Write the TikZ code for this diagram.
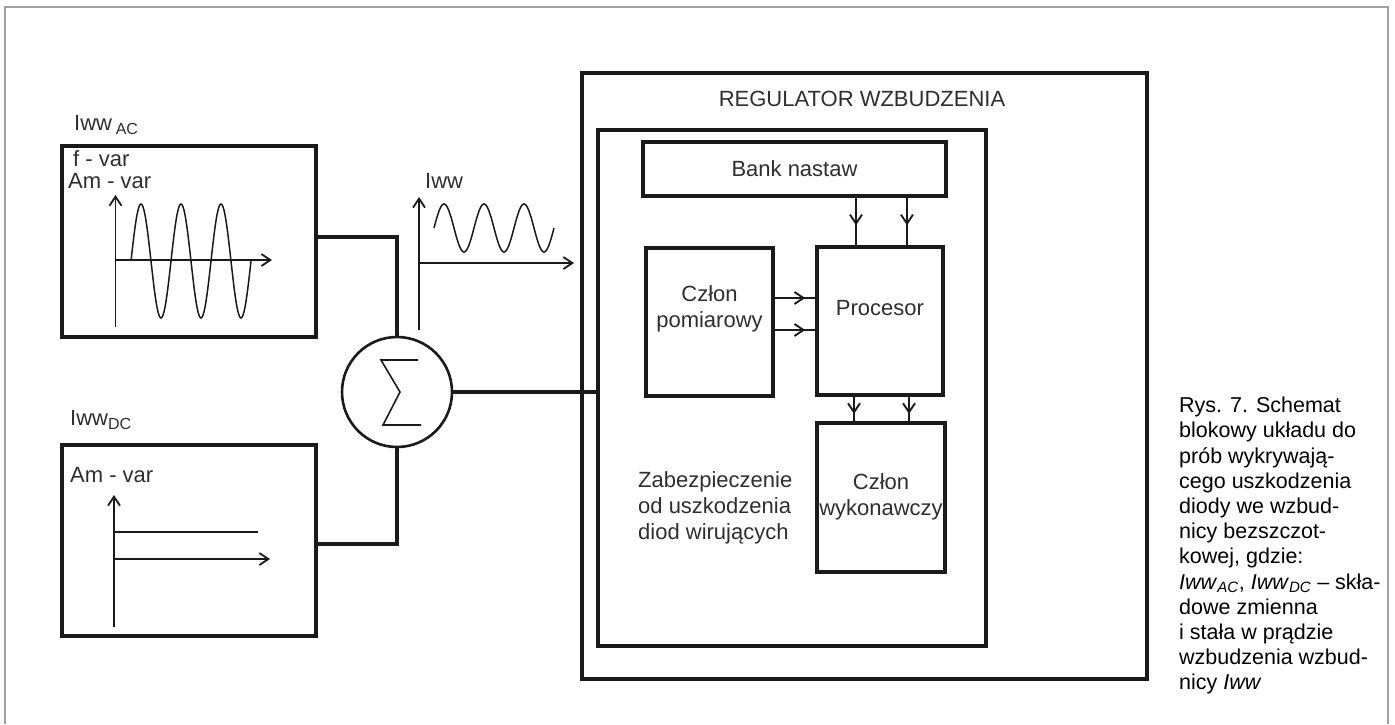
\documentclass[tikz,border=0pt]{standalone}
\usepackage{fontspec}
\setmainfont{Liberation Sans}
\usetikzlibrary{arrows.meta,positioning,calc,decorations.markings}
\definecolor{RegInk}{HTML}{1A1A1A}
\definecolor{RegText}{HTML}{2E2E2E}
\definecolor{RegFrame}{HTML}{A0A0A0}
\newcommand\subtag[1]{\raisebox{-4pt}{\fontsize{16}{16}\selectfont #1}}
\tikzset{
  regbox/.style={draw=RegInk,line width=3.2pt,inner sep=0pt,font=\fontsize{22}{26}\selectfont,text=RegText},
  reglabel/.style={font=\fontsize{22}{26}\selectfont,text=RegText,inner sep=0pt,align=center},
  wire/.style={draw=RegInk,line width=3.2pt},
  axisarrow/.style={-{Straight Barb[length=9pt,width=12pt]},draw=RegInk,line width=1.8pt},
  waveline/.style={draw=RegInk,line width=1.5pt},
  signalarrow/.style={draw=RegInk,line width=1.9pt,postaction={decorate},
    decoration={markings,mark=at position #1 with {\arrow{Straight Barb[length=9pt,width=12pt]}}}},
  signalarrow/.default=0.6
}

\begin{document}
\begin{tikzpicture}[x=1pt,y=-1pt]
\useasboundingbox (0,0) rectangle (1395,724);
\draw[RegFrame,line width=1.2pt] (5,724) -- (5,7) -- (1388,7) -- (1388,724);

% sources
\node[regbox,minimum width=254pt,minimum height=191pt] (acsrc) at (189,241.5) {};
\node[regbox,minimum width=254pt,minimum height=191pt] (dcsrc) at (189,540.5) {};
\node[reglabel,anchor=base west] (aclabel) at (74,130) {Iww\,\subtag{AC}};
\node[reglabel,anchor=base west] (dclabel) at (70,425) {Iww\subtag{DC}};
\node[reglabel,anchor=base west] (acfreq) at (73,166) {f - var};
\node[reglabel,anchor=base west] (acamp) at (68,188) {Am - var};
\node[reglabel,anchor=base west] (dcamp) at (70,482) {Am - var};

% AC plot
\draw[axisarrow] (115.5,327) -- (115.5,195);
\draw[axisarrow] (115.5,260) -- (272,260);
\draw[waveline] plot[domain=131:251,samples=121,smooth] (\x,{261-57*sin(9*(\x-131))});

% DC plot
\draw[axisarrow] (114,627) -- (114,495);
\draw[waveline] (114,532) -- (258,532);
\draw[axisarrow] (114,559) -- (270,559);

% summing junction
\node[circle,draw=RegInk,line width=2.6pt,minimum size=110pt,inner sep=0pt] (sum) at (397,392) {};
\draw[RegInk,line width=1.6pt] ([shift={(21,-32)}]sum.center) -- ([shift={(-16,-32)}]sum.center)
  -- ([shift={(3,0)}]sum.center) -- ([shift={(-14,33)}]sum.center) -- ([shift={(24,33)}]sum.center);

% output signal
\node[reglabel,anchor=base west] (outlabel) at (425,188) {Iww};
\draw[axisarrow] (419,330) -- (419,197);
\draw[axisarrow] (419,263) -- (574,263);
\draw[waveline] plot[domain=434:554,samples=121,smooth] (\x,{228-24*sin(9*(\x-434))});

% regulator
\node[regbox,minimum width=565pt,minimum height=606pt] (reg) at (864.5,376) {};
\node[reglabel,anchor=base] (regtitle) at (862,106) {REGULATOR WZBUDZENIA};
\node[regbox,minimum width=388pt,minimum height=516pt] (inner) at (792,388) {};
\node[regbox,minimum width=303pt,minimum height=54pt] (bank) at (794.5,169) {Bank nastaw};
\node[regbox,minimum width=127pt,minimum height=148pt] (meas) at (709.5,322) {};
\node[regbox,minimum width=126pt,minimum height=148pt] (proc) at (880,321) {};
\node[regbox,minimum width=128pt,minimum height=149pt] (wyk) at (881,497.5) {};
\node[reglabel,below=39pt of meas.north] (measlbl) {Człon\\pomiarowy};
\node[reglabel,below=55pt of proc.north] (proclbl) {Procesor};
\node[reglabel,below=52pt of wyk.north] (wyklbl) {Człon\\wykonawczy};
\node[reglabel,anchor=north west,align=left] (protlbl) at (638,471) {Zabezpieczenie\\od uszkodzenia\\diod wirujących};

\draw[wire] (acsrc.east |- 0,237) -| (sum.north);
\draw[wire] (dcsrc.east |- 0,544) -| (sum.south);
\draw[wire] (sum.east) -- (inner.west |- sum.east);

\draw[signalarrow=0.58] (bank.south -| 856,0) -- (proc.north -| 856,0);
\draw[signalarrow=0.58] (bank.south -| 907,0) -- (proc.north -| 907,0);
\draw[signalarrow=0.75] (meas.east |- 0,298) -- (proc.west |- 0,298);
\draw[signalarrow=0.75] (meas.east |- 0,330) -- (proc.west |- 0,330);
\draw[signalarrow=0.7] (proc.south -| 854,0) -- (wyk.north -| 854,0);
\draw[signalarrow=0.7] (proc.south -| 909,0) -- (wyk.north -| 909,0);

% caption
\node[anchor=north west,inner sep=0pt,align=left,font=\fontsize{21.5}{25.2}\selectfont,text=black] (caption) at (1179,397)
  {Rys. 7. Schemat\\blokowy układu do\\prób wykrywają-\\cego uszkodzenia\\diody we wzbud-\\nicy bezszczot-\\kowej, gdzie:\\
   \textit{Iww}\textsubscript{\textit{AC}}, \textit{Iww}\textsubscript{\textit{DC}} – skła-\\dowe zmienna\\i stała w prądzie\\wzbudzenia wzbud-\\nicy \textit{Iww}};
\end{tikzpicture}
\end{document}
